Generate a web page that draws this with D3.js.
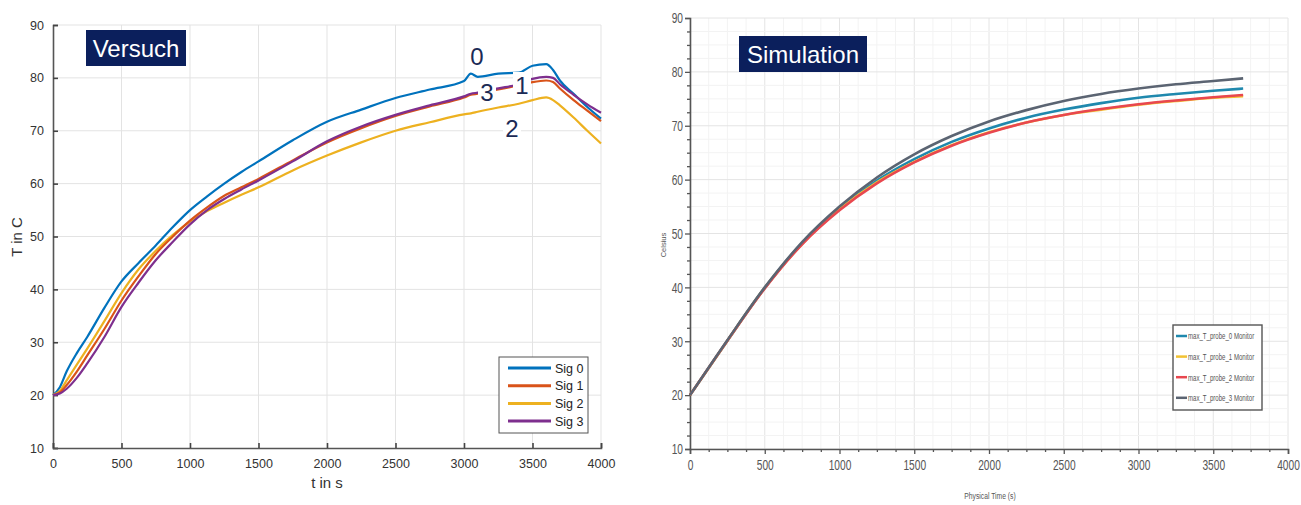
<!DOCTYPE html>
<html>
<head>
<meta charset="utf-8">
<script src="https://cdn.jsdelivr.net/npm/d3@7"></script>
<style>
  body { margin: 0; background: #fff; }
  svg { display: block; }
  text { font-family: "Liberation Sans", Arial, sans-serif; }
</style>
</head>
<body>
<div id="wrapper"></div>
<script>
// ---- Versuch (measurement) ----
const timesV = [0, 50, 100, 175, 250, 375, 500, 625, 750, 875, 1000, 1125, 1250, 1375, 1500, 1750,
  2000, 2250, 2500, 2750, 3000, 3050, 3100, 3250, 3400, 3500, 3600, 3650, 3700, 3800, 3900, 4000];
const sig0 = [20, 21.5, 24.5, 28, 31, 36.5, 41.5, 45, 48.3, 51.8, 55, 57.6, 60, 62.2, 64.2, 68.2,
  71.7, 74, 76.2, 77.8, 79.4, 80.8, 80.2, 80.8, 81, 82.3, 82.6, 81.5, 79.5, 77, 74.5, 72.3];
const sig1 = [20, 20.5, 21.9, 24.5, 27.5, 32.5, 37.9, 42.5, 46.7, 50, 53, 55.5, 57.7, 59.3, 60.9, 64.4,
  67.8, 70.5, 72.8, 74.6, 76.3, 76.8, 77, 77.8, 78.6, 79.2, 79.5, 79.2, 78, 75.8, 73.8, 71.8];
const sig2 = [20, 20.8, 22.8, 25.8, 28.8, 34, 39.3, 43.8, 47.3, 50.3, 52.8, 54.8, 56.4, 57.9, 59.3, 62.5,
  65.3, 67.8, 70, 71.6, 73.1, 73.3, 73.6, 74.4, 75.1, 75.8, 76.3, 75.8, 74.8, 72.5, 70, 67.6];
const sig3 = [20, 20.3, 21.2, 23.3, 26, 31, 36.7, 41.3, 45.5, 49, 52.3, 55, 57.1, 58.9, 60.6, 64.2,
  68, 70.8, 73, 74.8, 76.5, 77, 77.2, 78, 78.8, 79.8, 80.2, 80, 78.8, 76.8, 75, 73.4];
const namesV = ["Sig 0", "Sig 1", "Sig 2", "Sig 3"];
const colorsV = ["#0072BD", "#D95319", "#EDB120", "#7E2F8E"];
const drawOrderV = [0, 2, 1, 3];

// ---- Simulation ----
const timesS = [0, 250, 500, 750, 1000, 1250, 1500, 1750, 2000, 2250, 2500, 2750, 3000, 3250, 3500, 3700];
const probe0 = [20, 30.1, 39.9, 48.2, 54.6, 59.8, 63.8, 67.0, 69.5, 71.5, 73.0, 74.2, 75.2, 75.9, 76.5, 76.9];
const probe1 = [20, 30.1, 39.9, 48.1, 54.5, 59.5, 63.3, 66.4, 68.8, 70.6, 72.0, 73.0, 73.9, 74.6, 75.2, 75.5];
const probe2 = [20, 30.1, 39.8, 48.0, 54.3, 59.3, 63.2, 66.3, 68.7, 70.6, 72.0, 73.1, 74.0, 74.7, 75.3, 75.7];
const probe3 = [20, 30.2, 40.0, 48.4, 55.0, 60.4, 64.7, 68.1, 70.8, 72.9, 74.6, 75.9, 76.9, 77.7, 78.3, 78.8];
const namesS = ["max_T_probe_0 Monitor", "max_T_probe_1 Monitor", "max_T_probe_2 Monitor", "max_T_probe_3 Monitor"];
const colorsS = ["#1f88ad", "#f2c232", "#e8474f", "#5b6472"];

const xTicks = d3.range(0, 4001, 500);
const yTicks = d3.range(10, 91, 10);

const svg = d3.select("#wrapper").append("svg")
  .attr("width", 1301).attr("height", 505);

// squeeze text horizontally (no condensed font installed)
function condense(sel, f) {
  sel.each(function () {
    const t = d3.select(this);
    const x = +(t.attr("x") || 0);
    t.attr("x", x / f).attr("transform", `scale(${f},1)`);
  });
}

// ================= left chart =================
const L = svg.append("g");
const xL = d3.scaleLinear().domain([0, 4000]).range([53, 601]);
const yL = d3.scaleLinear().domain([10, 90]).range([448, 25]);

L.append("g").selectAll("line").data(xTicks.slice(1)).join("line")
  .attr("x1", d => xL(d)).attr("x2", d => xL(d)).attr("y1", yL(10)).attr("y2", yL(90))
  .attr("stroke", "#e3e3e3").attr("stroke-width", 1);
L.append("g").selectAll("line").data(yTicks.slice(1)).join("line")
  .attr("x1", xL(0)).attr("x2", xL(4000)).attr("y1", d => yL(d)).attr("y2", d => yL(d))
  .attr("stroke", "#e3e3e3").attr("stroke-width", 1);

const axL = L.append("g").attr("transform", `translate(${xL(0)},0)`)
  .call(d3.axisLeft(yL).tickValues(yTicks).tickSize(-5).tickPadding(9).tickFormat(d3.format("d")));
const axB = L.append("g").attr("transform", `translate(0,${yL(10)})`)
  .call(d3.axisBottom(xL).tickValues(xTicks).tickSize(-5).tickPadding(11).tickFormat(d3.format("d")));
[axL, axB].forEach(a => {
  a.select(".domain").attr("stroke", "#555").attr("stroke-width", 1.6);
  a.selectAll(".tick line").attr("stroke", "#444").attr("stroke-width", 1.6);
  a.selectAll(".tick text").attr("fill", "#333").attr("font-size", 12.5)
    .attr("font-family", "Liberation Sans, Arial, sans-serif");
});

const lineL = d3.line().x((d, i) => xL(timesV[i])).y(d => yL(d)).curve(d3.curveMonotoneX);
const seriesV = [sig0, sig1, sig2, sig3];
drawOrderV.forEach(k => {
  L.append("path").datum(seriesV[k]).attr("d", lineL)
    .attr("fill", "none").attr("stroke", colorsV[k]).attr("stroke-width", 2.2);
});

L.append("text").attr("x", xL(2000)).attr("y", 488).attr("text-anchor", "middle")
  .attr("font-size", 15).attr("fill", "#333").text("t in s");
L.append("text").attr("transform", "translate(22,237) rotate(-90)").attr("text-anchor", "middle")
  .attr("font-size", 15).attr("fill", "#333").text("T in C");

// legend
const lgL = L.append("g").attr("transform", "translate(499,357)");
lgL.append("rect").attr("width", 89).attr("height", 76).attr("fill", "#fff")
  .attr("stroke", "#555").attr("stroke-width", 1);
namesV.forEach((n, i) => {
  const y = 11 + i * 17.7;
  lgL.append("line").attr("x1", 9).attr("x2", 52).attr("y1", y).attr("y2", y)
    .attr("stroke", colorsV[i]).attr("stroke-width", 3);
  lgL.append("text").attr("x", 56).attr("y", y + 4.5).attr("font-size", 12.5).attr("fill", "#222").text(n);
});

// curve labels with white backing
const curveLabels = [
  { t: "0", x: 477, y: 65 }, { t: "3", x: 487, y: 101 },
  { t: "1", x: 522, y: 94 }, { t: "2", x: 512, y: 137 }
];
curveLabels.forEach(c => {
  L.append("rect").attr("x", c.x - 9).attr("y", c.y - 22).attr("width", 18).attr("height", 27).attr("fill", "#fff");
  L.append("text").attr("x", c.x).attr("y", c.y).attr("text-anchor", "middle")
    .attr("font-size", 24).attr("fill", "#1b2a55").text(c.t);
});

L.append("rect").attr("x", 86).attr("y", 30).attr("width", 100).attr("height", 36).attr("fill", "#0b1f5c");
L.append("text").attr("x", 136).attr("y", 57).attr("text-anchor", "middle")
  .attr("font-size", 24).attr("fill", "#fff").text("Versuch");

// ================= right chart =================
const R = svg.append("g");
const xR = d3.scaleLinear().domain([0, 4000]).range([690, 1288]);
const yR = d3.scaleLinear().domain([10, 90]).range([449, 18]);
const xMinor = d3.range(0, 4001, 125);
const yMinor = d3.range(10, 90.1, 2.5);

R.append("g").selectAll("line").data(xMinor).join("line")
  .attr("x1", d => xR(d)).attr("x2", d => xR(d)).attr("y1", yR(10)).attr("y2", yR(90))
  .attr("stroke", d => d % 500 === 0 ? "#e4e4e4" : "#f3f3f3").attr("stroke-width", 1);
R.append("g").selectAll("line").data(yMinor).join("line")
  .attr("x1", xR(0)).attr("x2", xR(4000)).attr("y1", d => yR(d)).attr("y2", d => yR(d))
  .attr("stroke", d => d % 10 === 0 ? "#e4e4e4" : "#f3f3f3").attr("stroke-width", 1);

const axRL = R.append("g").attr("transform", `translate(${xR(0)},0)`)
  .call(d3.axisLeft(yR).tickValues(yTicks).tickSize(5).tickPadding(2).tickFormat(d3.format("d")));
const axRB = R.append("g").attr("transform", `translate(0,${yR(10)})`)
  .call(d3.axisBottom(xR).tickValues(xTicks).tickSize(5).tickPadding(5).tickFormat(d3.format("d")));
R.append("g").attr("transform", `translate(${xR(0)},0)`)
  .call(d3.axisLeft(yR).tickValues(yMinor.filter(d => d % 10 !== 0)).tickSize(3).tickFormat(""))
  .call(g => g.select(".domain").remove())
  .selectAll(".tick line").attr("stroke", "#555").attr("stroke-width", 1.3);
R.append("g").attr("transform", `translate(0,${yR(10)})`)
  .call(d3.axisBottom(xR).tickValues(xMinor.filter(d => d % 500 !== 0)).tickSize(3).tickFormat(""))
  .call(g => g.select(".domain").remove())
  .selectAll(".tick line").attr("stroke", "#555").attr("stroke-width", 1.3);
[axRL, axRB].forEach(a => {
  a.select(".domain").attr("stroke", "#555").attr("stroke-width", 1.6);
  a.selectAll(".tick line").attr("stroke", "#555").attr("stroke-width", 1.3);
  a.selectAll(".tick text").attr("fill", "#555").attr("font-size", 15)
    .attr("font-family", "Liberation Sans, Arial, sans-serif").call(condense, 0.68);
});

const lineR = d3.line().x((d, i) => xR(timesS[i])).y(d => yR(d)).curve(d3.curveMonotoneX);
const seriesS = [probe0, probe1, probe2, probe3];
seriesS.forEach((s, k) => {
  R.append("path").datum(s).attr("d", lineR)
    .attr("fill", "none").attr("stroke", colorsS[k]).attr("stroke-width", 2.6);
});

R.append("text").attr("x", 990).attr("y", 499).attr("text-anchor", "middle")
  .attr("font-size", 9).attr("fill", "#555").text("Physical Time (s)").call(condense, 0.75);
R.append("text").attr("transform", "translate(666,245) rotate(-90)").attr("text-anchor", "middle")
  .attr("font-size", 7.5).attr("fill", "#555").text("Celsius");

const lgR = R.append("g").attr("transform", "translate(1173,325)");
lgR.append("rect").attr("width", 89).attr("height", 85).attr("fill", "#fff")
  .attr("stroke", "#555").attr("stroke-width", 1.4);
namesS.forEach((n, i) => {
  const y = 11 + i * 20.6;
  lgR.append("line").attr("x1", 3).attr("x2", 14).attr("y1", y).attr("y2", y)
    .attr("stroke", colorsS[i]).attr("stroke-width", 2.5);
  lgR.append("text").attr("x", 15).attr("y", y + 3.5).attr("font-size", 9.5).attr("fill", "#555")
    .text(n).call(condense, 0.64);
});

R.append("rect").attr("x", 739).attr("y", 36).attr("width", 128).attr("height", 36).attr("fill", "#0b1f5c");
R.append("text").attr("x", 803).attr("y", 63).attr("text-anchor", "middle")
  .attr("font-size", 24).attr("fill", "#fff").text("Simulation");
</script>
</body>
</html>
